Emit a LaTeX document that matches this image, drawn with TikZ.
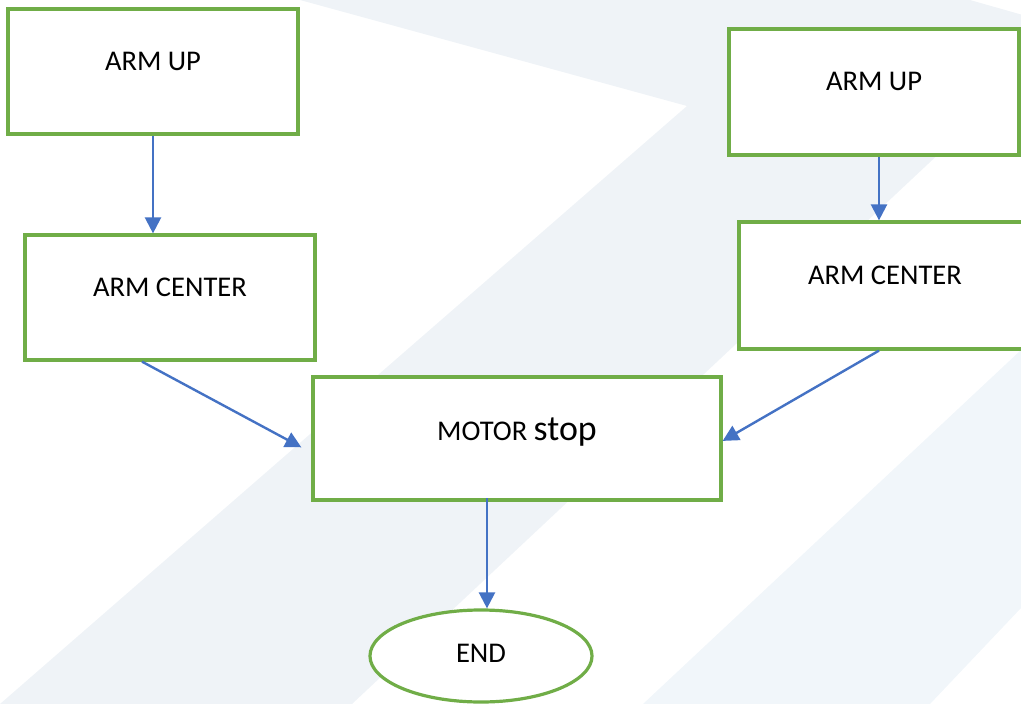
\documentclass[tikz,border=0pt]{standalone}
\usepackage{fontspec}
\setmainfont{Carlito}
\usetikzlibrary{arrows.meta,shapes.geometric}
\definecolor{boxgreen}{HTML}{70AD47}
\definecolor{arrowblue}{HTML}{4472C4}
\definecolor{bandgrey}{HTML}{EFF3F7}
\definecolor{bandblue}{HTML}{F1F6FA}
\begin{document}
\begin{tikzpicture}[x=0.025cm,y=-0.025cm,
  flowbox/.style={draw=boxgreen,line width=0.08cm,fill=white,minimum width=7.25cm,
    minimum height=3.125cm,inner sep=0pt,font=\fontsize{20.3}{24}\selectfont,
    text height=0.5cm,text depth=0.575cm},
  flowarrow/.style={draw=arrowblue,line width=0.06cm,-{Triangle[length=0.4cm,width=0.4cm]}}]
  \useasboundingbox (0,0) rectangle (1021,704);
  \clip (0,0) rectangle (1021,704);
  % Background bands
  \fill[bandgrey] (300,0) -- (687,106) -- (0,704) -- (352,704) -- (1072,29) -- (970,0) -- cycle;
  \fill[bandblue] (643,704) -- (1021,350) -- (1021,608) -- (930,704) -- cycle;
  % Left-hand side part of the Figure
  \node[flowbox]                (upL)     at (153,71.5)  {ARM UP};
  \node[flowbox]                (centerL) at (170,297.5) {ARM CENTER};
  % Right-hand side part of the Figure
  \node[flowbox,minimum height=3.15cm] (upR) at (874,92) {ARM UP};
  \node[flowbox,minimum width=7.3cm,minimum height=3.175cm] (centerR) at (885,285.5) {ARM CENTER};
  % Middle part
  \node[flowbox,minimum width=10.2cm,minimum height=3.075cm,text depth=0.39cm]
                                (motor)   at (517,438.5) {MOTOR {\fontsize{25.5}{30}\selectfont stop}};
  \node[ellipse,draw=boxgreen,line width=0.08cm,fill=white,minimum width=5.55cm,
    minimum height=2.3cm,inner sep=0pt,font=\fontsize{20.3}{24}\selectfont,text depth=0.125cm]
                                (end)     at (481,656)   {END};
  % Arrows
  \draw[flowarrow] (upL.south) -- (upL.south |- centerL.north);
  \draw[flowarrow] ([xshift=0.125cm]upR.south) -- ([xshift=0.125cm]upR.south |- centerR.north);
  \draw[flowarrow] ([xshift=-0.7cm]centerL.south) -- ([xshift=-0.25cm,yshift=-0.22cm]motor.west);
  \draw[flowarrow] ([xshift=-0.15cm]centerR.south) -- ([yshift=-0.06cm]motor.east);
  \draw[flowarrow] ([xshift=-0.75cm,yshift=0.08cm]motor.south) -- ([xshift=-0.75cm]motor.south |- end.north);
\end{tikzpicture}
\end{document}
